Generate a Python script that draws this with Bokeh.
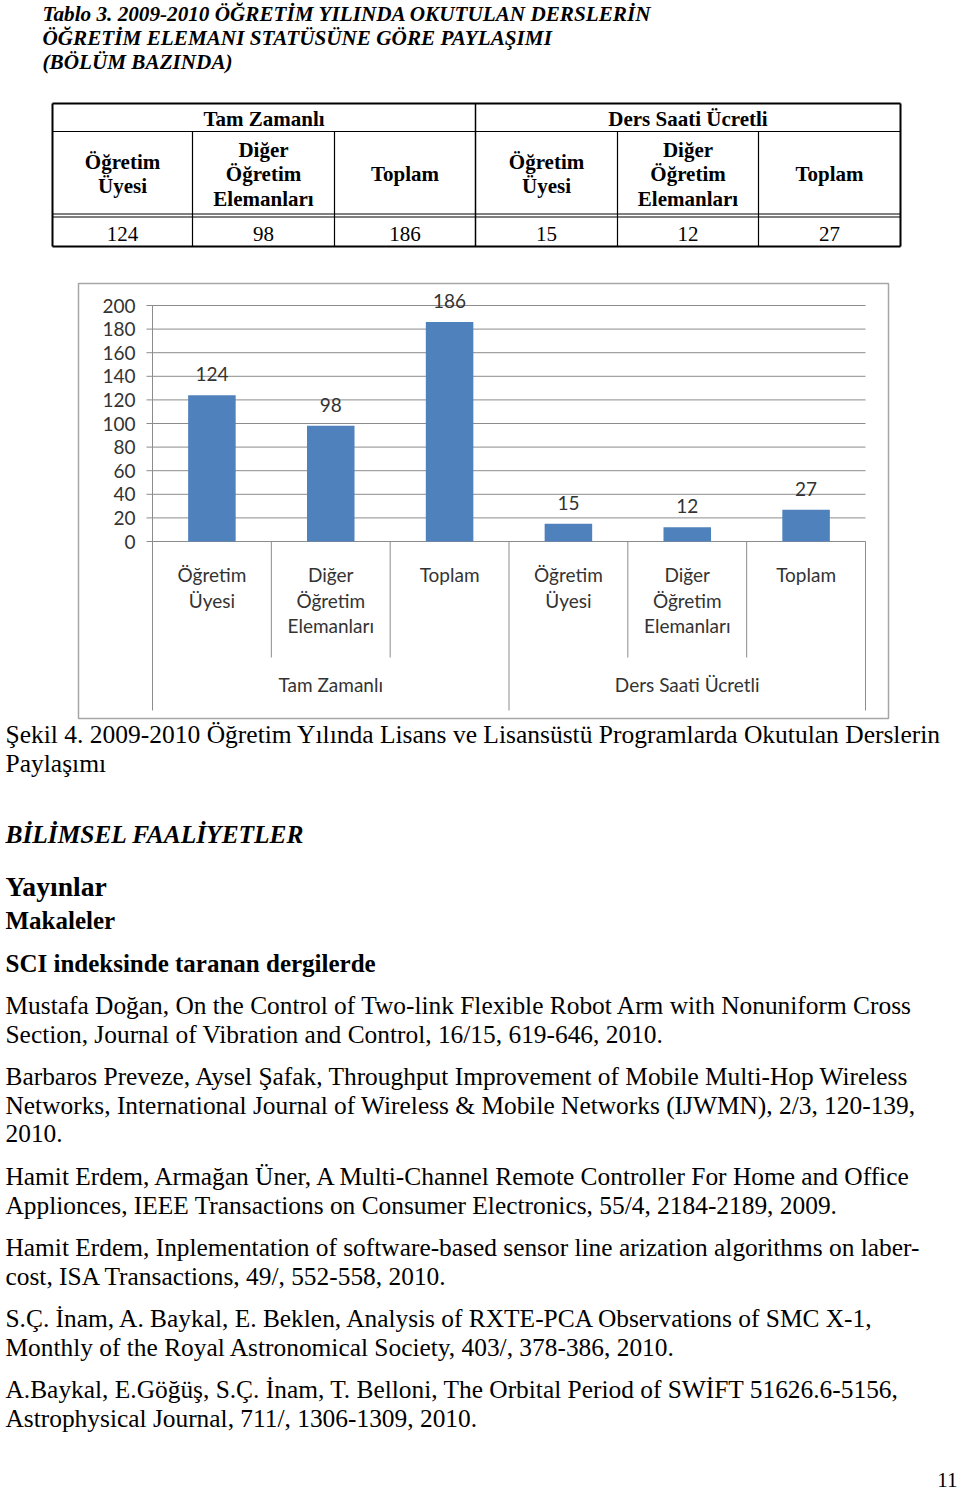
from bokeh.plotting import figure
from bokeh.models import Range1d
from bokeh.core.properties import value
from bokeh.embed import file_html
from bokeh.resources import INLINE

W, H = 960, 1491

# ---------------- data ----------------
groups = ["Tam Zamanlı", "Ders Saati Ücretli"]
categories = ["Öğretim Üyesi", "Diğer Öğretim Elemanları", "Toplam",
              "Öğretim Üyesi", "Diğer Öğretim Elemanları", "Toplam"]
category_group = [0, 0, 0, 1, 1, 1]
counts = [124, 98, 186, 15, 12, 27]
y_ticks = [0, 20, 40, 60, 80, 100, 120, 140, 160, 180, 200]

title_lines = ["Tablo 3. 2009-2010 ÖĞRETİM YILINDA OKUTULAN DERSLERİN",
               "ÖĞRETİM ELEMANI STATÜSÜNE GÖRE PAYLAŞIMI",
               "(BÖLÜM BAZINDA)"]
caption_lines = ["Şekil 4. 2009-2010 Öğretim  Yılında  Lisans ve Lisansüstü Programlarda Okutulan Derslerin",
                 "Paylaşımı"]
references = [
    ["Mustafa Doğan, On the Control of Two-link Flexible Robot Arm with Nonuniform Cross",
     "Section, Journal of Vibration and Control, 16/15, 619-646, 2010."],
    ["Barbaros Preveze, Aysel Şafak, Throughput Improvement of Mobile Multi-Hop Wireless",
     "Networks, International Journal of Wireless & Mobile Networks (IJWMN), 2/3, 120-139,",
     "2010."],
    ["Hamit Erdem, Armağan Üner, A Multi-Channel Remote Controller For Home and Office",
     "Applionces, IEEE Transactions on Consumer Electronics, 55/4, 2184-2189, 2009."],
    ["Hamit Erdem, Inplementation of software-based sensor line arization algorithms on laber-",
     "cost, ISA Transactions, 49/, 552-558, 2010."],
    ["S.Ç. İnam, A. Baykal, E. Beklen, Analysis of RXTE-PCA Observations of SMC X-1,",
     "Monthly of the Royal Astronomical Society, 403/, 378-386, 2010."],
    ["A.Baykal, E.Göğüş, S.Ç. İnam, T. Belloni, The Orbital Period of SWİFT 51626.6-5156,",
     "Astrophysical Journal, 711/, 1306-1309, 2010."],
]

SERIF = value("Liberation Serif")
SANS = value("Lato")
INK = "#000000"
CHART_INK = "#333333"
BAR = "#4F81BD"
GRID = "#8C8C8C"

p = figure(width=W, height=H, x_range=Range1d(0, W), y_range=Range1d(H, 0),
           output_backend="svg", toolbar_location=None,
           x_axis_location=None, y_axis_location=None, min_border=0)
p.grid.visible = False
p.outline_line_color = None
p.background_fill_color = "white"
p.border_fill_color = "white"


def put(x, y, txt, size, style="normal", font=SERIF, align="left", color=INK, **kw):
    p.text(x=[x], y=[y], text=[txt], text_font=font, text_font_size=f"{size}px",
           text_font_style=style, text_align=align, text_baseline="middle",
           text_color=color, **kw)


# ---------------- title ----------------
for i, t in enumerate(title_lines):
    put(42, 13 + 24 * i, t, 21.2, "bold italic")

# ---------------- table ----------------
col_edges = [52, 192, 334, 475, 617, 758, 900]
row_top, row_mid, row_hdr, row_bot = 103, 131, 215, 246
p.segment(x0=[52, 52, 52, 900], y0=[row_top, row_bot, row_top, row_top],
          x1=[900, 900, 52, 900], y1=[row_top, row_bot, row_bot, row_bot],
          line_color=INK, line_width=2)
p.segment(x0=[475], y0=[row_top], x1=[475], y1=[row_bot], line_color=INK, line_width=1.5)
inner = [192, 334, 617, 758]
p.segment(x0=inner, y0=[row_mid] * 4, x1=inner, y1=[row_bot] * 4, line_color=INK, line_width=1.2)
p.segment(x0=[52], y0=[row_mid], x1=[900], y1=[row_mid], line_color=INK, line_width=1.2)
p.segment(x0=[52, 52], y0=[row_hdr - 1.5, row_hdr + 1.5], x1=[900, 900],
          y1=[row_hdr - 1.5, row_hdr + 1.5], line_color=INK, line_width=1)

for g, name in enumerate(groups):
    cols = [i for i, cg in enumerate(category_group) if cg == g]
    cx = (col_edges[cols[0]] + col_edges[cols[-1] + 1]) / 2
    put(cx, 118, name, 21, "bold", align="center")

for i, cat in enumerate(categories):
    cx = (col_edges[i] + col_edges[i + 1]) / 2
    lines = cat.split(" ")
    nl = len(lines)
    for j, ln in enumerate(lines):
        put(cx, 173.5 + (j - (nl - 1) / 2) * 24.5, ln, 21, "bold", align="center")
    put(cx, 233, str(counts[i]), 21, "normal", align="center")

# ---------------- chart ----------------
PL, PR = 152, 865        # plot area left / right (px)
Y0, YMAX = 541, 305      # pixel rows for value 0 and 200
n = len(counts)
u = (PR - PL) / n
k = (Y0 - YMAX) / max(y_ticks)
p.extra_x_ranges = {"bars": Range1d(-PL / u - 0.5, (W - PL) / u - 0.5)}
p.extra_y_ranges = {"bars": Range1d((Y0 - H) / k, Y0 / k)}

p.quad(left=[78], right=[888], top=[283], bottom=[718], fill_color=None,
       line_color="#A6A6A6", line_width=1.5)

idx = list(range(n))
p.segment(x0=[-0.5 - 6 / u] * len(y_ticks), x1=[n - 0.5] * len(y_ticks),
          y0=y_ticks, y1=y_ticks, line_color=GRID, line_width=1,
          x_range_name="bars", y_range_name="bars")
p.segment(x0=[-0.5], x1=[-0.5], y0=[0], y1=[max(y_ticks)], line_color=GRID,
          line_width=1, x_range_name="bars", y_range_name="bars")
p.text(x=[-0.5] * len(y_ticks), y=y_ticks, text=[str(t) for t in y_ticks],
       x_offset=-17, text_align="right", text_baseline="middle",
       text_font=SANS, text_font_size="19px", text_color=CHART_INK,
       x_range_name="bars", y_range_name="bars")

p.vbar(x=idx, top=counts, bottom=0, width=0.4, fill_color=BAR, line_color=None,
       x_range_name="bars", y_range_name="bars")
p.text(x=idx, y=counts, text=[str(c) for c in counts], y_offset=-21,
       text_align="center", text_baseline="middle", text_font=SANS,
       text_font_size="19px", text_color=CHART_INK,
       x_range_name="bars", y_range_name="bars")

bounds = [i - 0.5 for i in range(n + 1)]
grp_bounds = [b for b in bounds if b in (-0.5, n - 0.5) or
              (0 <= b + 0.5 < n and category_group[int(b + 0.5)] != category_group[int(b - 0.5)])]
in_bounds = [b for b in bounds if b not in grp_bounds]
p.segment(x0=in_bounds, x1=in_bounds, y0=[Y0] * len(in_bounds), y1=[657] * len(in_bounds),
          line_color=GRID, line_width=1, x_range_name="bars")
p.segment(x0=grp_bounds, x1=grp_bounds, y0=[Y0] * len(grp_bounds), y1=[710] * len(grp_bounds),
          line_color=GRID, line_width=1, x_range_name="bars")

for i, cat in enumerate(categories):
    for j, ln in enumerate(cat.split(" ")):
        p.text(x=[i], y=[574 + 25.5 * j], text=[ln], text_align="center",
               text_baseline="middle", text_font=SANS, text_font_size="19px",
               text_color=CHART_INK, x_range_name="bars")
for g, name in enumerate(groups):
    cols = [i for i, cg in enumerate(category_group) if cg == g]
    p.text(x=[sum(cols) / len(cols)], y=[684], text=[name], text_align="center",
           text_baseline="middle", text_font=SANS, text_font_size="19px",
           text_color=CHART_INK, x_range_name="bars")

# ---------------- body text ----------------
for i, t in enumerate(caption_lines):
    put(5, 734 + 29 * i, t, 25.5)

put(5, 833, "BİLİMSEL FAALİYETLER", 25.4, "bold italic")
put(5, 886, "Yayınlar", 27.6, "bold")
put(5, 920, "Makaleler", 25, "bold")
put(5, 963, "SCI indeksinde taranan dergilerde", 25, "bold")

ref_y = [1004, 1075, 1175, 1246, 1317, 1388]
for y0, ref in zip(ref_y, references):
    for j, ln in enumerate(ref):
        put(5, y0 + 29 * j, ln, 25.4)

put(957, 1479, "11", 21, align="right")

open("out.html", "w").write(file_html(p, INLINE))
